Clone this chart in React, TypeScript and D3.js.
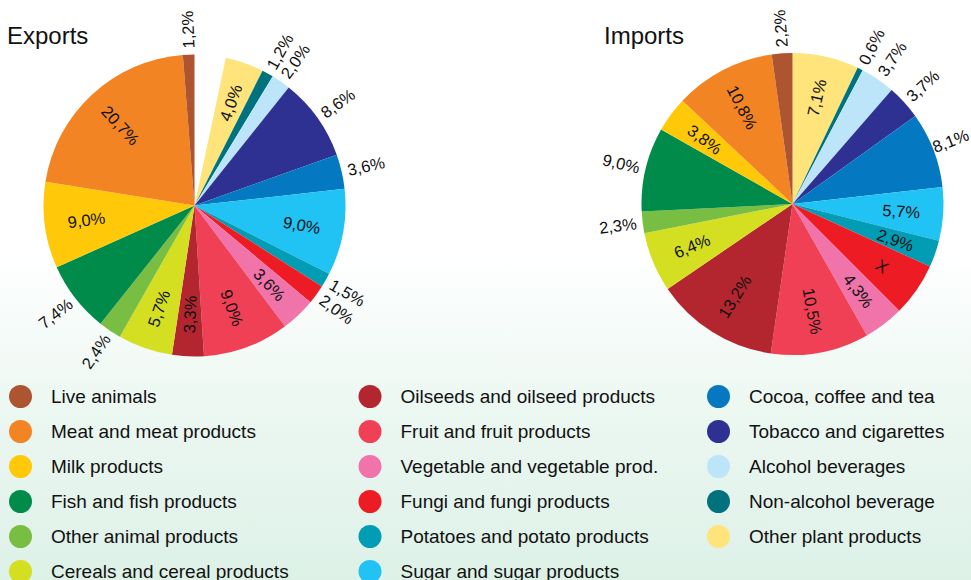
import React, { useEffect } from "react";
import * as d3 from "d3";

const categories = [
  "Live animals",
  "Meat and meat products",
  "Milk products",
  "Fish and fish products",
  "Other animal products",
  "Cereals and cereal products",
  "Oilseeds and oilseed products",
  "Fruit and fruit products",
  "Vegetable and vegetable prod.",
  "Fungi and fungi products",
  "Potatoes and potato products",
  "Sugar and sugar products",
  "Cocoa, coffee and tea",
  "Tobacco and cigarettes",
  "Alcohol beverages",
  "Non-alcohol beverage",
  "Other plant products",
];

const colors = [
  "#ad5431",
  "#f28424",
  "#ffc90a",
  "#008b4b",
  "#78be43",
  "#d5df22",
  "#b4262f",
  "#ef4056",
  "#f074aa",
  "#ed1c24",
  "#009db4",
  "#20c3f3",
  "#0479c2",
  "#2e3192",
  "#bce5f9",
  "#00727e",
  "#fee47b",
];

const exportsValues = [1.2, 20.7, 9.0, 7.4, 2.4, 5.7, 3.3, 9.0, 3.6, 2.0, 1.5, 9.0, 3.6, 8.6, 2.0, 1.2, 4.0];
const importsValues = [2.2, 10.8, 3.8, 9.0, 2.3, 6.4, 13.2, 10.5, 4.3, 5.7, 2.9, 5.7, 8.1, 3.7, 3.7, 0.6, 7.1];
const importsHiddenLabels = ["Fungi and fungi products"]; // shown as "X"

const exportsOutside = [
  "Live animals",
  "Fish and fish products",
  "Other animal products",
  "Fungi and fungi products",
  "Potatoes and potato products",
  "Cocoa, coffee and tea",
  "Tobacco and cigarettes",
  "Alcohol beverages",
  "Non-alcohol beverage",
];
const importsOutside = [
  "Live animals",
  "Fish and fish products",
  "Other animal products",
  "Cocoa, coffee and tea",
  "Tobacco and cigarettes",
  "Alcohol beverages",
  "Non-alcohol beverage",
];

const W = 971;
const H = 580;
const R = 151;
const LABEL_FS = 16.5;
const FONT = "'Liberation Sans', Arial, Helvetica, sans-serif";

type Item = { name: string; value: number; color: string; label: string; outside: boolean };

function fmt(v: number) {
  return v.toFixed(1).replace(".", ",") + "%";
}

function Pie({ cx, cy, items, startAngle }: { cx: number; cy: number; items: Item[]; startAngle: number }) {
  const pie = d3
    .pie<Item>()
    .sort(null)
    .value((d) => d.value)
    .startAngle(startAngle)
    .endAngle(2 * Math.PI);
  // clockwise from top: reverse of legend order
  const arcs = pie(items.slice().reverse());
  const arc = d3.arc<d3.PieArcDatum<Item>>().innerRadius(0).outerRadius(R);
  return (
    <g transform={`translate(${cx},${cy})`}>
      {arcs.map((a, i) => (
        <path key={i} d={arc(a) || ""} fill={a.data.color} />
      ))}
      {arcs.map((a, i) => {
        const mid = (a.startAngle + a.endAngle) / 2;
        const deg = (mid * 180) / Math.PI;
        const rr = a.data.outside ? 176 : 109;
        let x = rr * Math.sin(mid);
        const y = -rr * Math.cos(mid);
        const rot = deg > 180 && deg < 350 ? deg + 90 : deg - 90;
        // keep labels inside the picture horizontally
        const rad = (rot * Math.PI) / 180;
        const w = a.data.label.length * 0.56 * LABEL_FS;
        const half = 0.5 * (w * Math.abs(Math.cos(rad)) + 0.75 * LABEL_FS * Math.abs(Math.sin(rad)));
        const maxX = W - 1 - cx - half;
        const minX = 1 - cx + half;
        x = Math.max(minX, Math.min(maxX, x));
        return (
          <text
            key={"t" + i}
            x={0}
            y={0}
            transform={`translate(${x},${y}) rotate(${rot})`}
            textAnchor="middle"
            dominantBaseline="central"
            fontSize={LABEL_FS}
            fontFamily={FONT}
            fill="#111"
          >
            {a.data.label}
          </text>
        );
      })}
    </g>
  );
}

export default function App() {
  useEffect(() => {
    document.body.style.margin = "0";
  }, []);

  const exportsItems: Item[] = categories.map((c, i) => ({
    name: c,
    value: exportsValues[i],
    color: colors[i],
    label: fmt(exportsValues[i]),
    outside: exportsOutside.includes(c),
  }));
  const importsItems: Item[] = categories.map((c, i) => ({
    name: c,
    value: importsValues[i],
    color: colors[i],
    label: importsHiddenLabels.includes(c) ? "X" : fmt(importsValues[i]),
    outside: importsOutside.includes(c),
  }));

  const colX = [20.5, 370, 718.5];
  const rowY = d3.range(6).map((i) => 396.5 + i * 35);
  const perCol = [6, 6, 5];
  let idx = 0;
  const legend: { c: string; color: string; x: number; y: number }[] = [];
  perCol.forEach((n, ci) => {
    for (let r = 0; r < n; r++) {
      legend.push({ c: categories[idx], color: colors[idx], x: colX[ci], y: rowY[r] });
      idx++;
    }
  });

  return (
    <svg
      width={W}
      height={H}
      style={{ position: "absolute", left: 0, top: 0, display: "block" }}
      xmlns="http://www.w3.org/2000/svg"
    >
      <defs>
        <linearGradient id="bg" x1="0" y1="0" x2="0" y2="1">
          <stop offset="0" stopColor="#ffffff" />
          <stop offset="0.43" stopColor="#ffffff" />
          <stop offset="0.72" stopColor="#ebf7f1" />
          <stop offset="1" stopColor="#ddf1e7" />
        </linearGradient>
      </defs>
      <rect x={0} y={0} width={W} height={H} fill="url(#bg)" />
      <Pie cx={194.5} cy={205.5} items={exportsItems} startAngle={(12 * Math.PI) / 180} />
      <Pie cx={792.5} cy={204} items={importsItems} startAngle={0} />
      <text x={7} y={44} fontSize={24} fontFamily={FONT} fill="#111">
        Exports
      </text>
      <text x={604} y={43.5} fontSize={24} fontFamily={FONT} fill="#111">
        Imports
      </text>
      {legend.map((l, i) => (
        <g key={i}>
          <circle cx={l.x} cy={l.y} r={11.5} fill={l.color} />
          <text x={l.x + 30.5} y={l.y + 6.5} fontSize={19} fontFamily={FONT} fill="#111">
            {l.c}
          </text>
        </g>
      ))}
    </svg>
  );
}
